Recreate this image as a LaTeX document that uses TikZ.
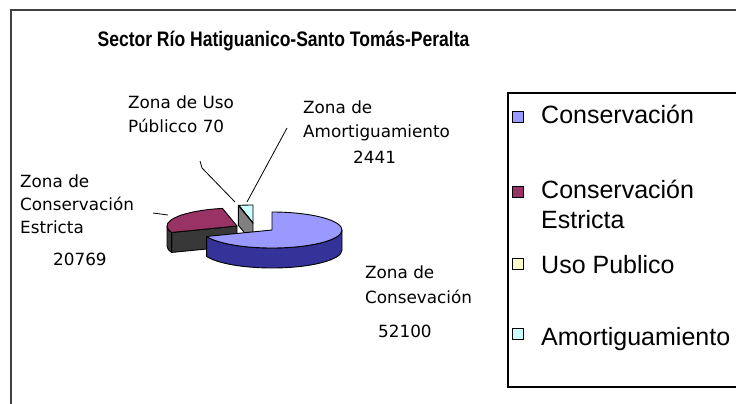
\documentclass[tikz,border=0pt]{standalone}
\usepackage{fontspec}
\setmainfont{Liberation Sans}
\newfontfamily\lblfont{DejaVu Sans}
\usetikzlibrary{calc}
\definecolor{blueTop}{HTML}{9999FF}
\definecolor{blueSide}{HTML}{333399}
\definecolor{plumTop}{HTML}{993366}
\definecolor{plumSide}{HTML}{383838}
\definecolor{usoTop}{HTML}{FFFFCC}
\definecolor{amoTop}{HTML}{CCFFFF}
\definecolor{smallSide}{HTML}{808080}
\definecolor{frameGray}{HTML}{404040}
\begin{document}
\begin{tikzpicture}[x=1pt,y=-1pt,
  lbl/.style={font=\lblfont\fontsize{16.8}{20}\selectfont, inner sep=0pt, anchor=base west},
  leg/.style={font=\fontsize{25}{30}\selectfont, inner sep=0pt, anchor=base west},
  legsq/.style={draw=black, line width=0.8pt, minimum size=11pt, inner sep=0pt},
  slice/.style={draw=black, line width=0.9pt, line join=round},
  leader/.style={draw=black, line width=0.8pt},
  pie/.style={x radius=70pt, y radius=18pt}]
\useasboundingbox (0,0) rectangle (736,404);
\fill[white] (0,0) rectangle (736,404);
% outer chart frame
\draw[frameGray, line width=2.2pt] (11,420) -- (11,10) -- (760,10);
% title
\node[font=\bfseries\fontsize{21}{24}\selectfont, inner sep=0pt, anchor=base] (title) at (283.5,47)
  {\scalebox{0.835}[1]{Sector Río Hatiguanico-Santo Tomás-Peralta}};
% legend
\draw[black, line width=1.2pt] (760,93) -- (508,93) -- (508,387) -- (760,387);
\node[legsq, fill=blueTop] (sq1) at (517.5,116.5) {};
\node[legsq, fill=plumTop] (sq2) at (517.5,191.5) {};
\node[legsq, fill=usoTop] (sq3) at (517.5,263.5) {};
\node[legsq, fill=amoTop] (sq4) at (517.5,333.5) {};
\node[leg] (lg1) at (541,123) {Conservación};
\node[leg] (lg2) at (541,198) {Conservación};
\node[leg] (lg2b) at (541,228) {Estricta};
\node[leg] (lg3) at (541,273) {Uso Publico};
\node[leg] (lg4) at (541,345) {Amortiguamiento};
% pie centres
\coordinate (c1) at (272,230);
\coordinate (c2) at (237,226);
\coordinate (c3) at (253,223);
% strict conservation slice
\path[slice, fill=plumSide] (c2) -- ($(c2)+(201:70pt and 18pt)$) -- ++(0pt,-20pt) -- ($(c2)+(0pt,-20pt)$) -- cycle;
\path[slice, fill=plumSide] ($(c2)+(180:70pt and 18pt)$) arc[pie, start angle=180, end angle=201] -- ++(0pt,-20pt) arc[pie, start angle=201, end angle=180] -- cycle;
\path[slice, fill=plumTop] (c2) -- ($(c2)+(102:70pt and 18pt)$) arc[pie, start angle=102, end angle=201] -- cycle;
% small slices
\path[slice, fill=smallSide] (c3) -- ($(c3)+(102:70pt and 18pt)$) -- ++(0pt,-20pt) -- ($(c3)+(0pt,-20pt)$) -- cycle;
\path[slice, fill=amoTop] (c3) -- ($(c3)+(90:70pt and 18pt)$) arc[pie, start angle=90, end angle=101.66] -- cycle;
\path[slice, fill=usoTop] (c3) -- ($(c3)+(101.66:70pt and 18pt)$) arc[pie, start angle=101.66, end angle=102] -- cycle;
% conservation slice
\path[slice, fill=blueSide] ($(c1)+(-159:70pt and 18pt)$) arc[pie, start angle=-159, end angle=0] -- ++(0pt,-20pt) arc[pie, start angle=0, end angle=-159] -- cycle;
\path[slice, fill=blueTop] (c1) -- ($(c1)+(-159:70pt and 18pt)$) arc[pie, start angle=-159, end angle=90] -- cycle;
% labels
\node[lbl] (uso1) at (128,108) {Zona de Uso};
\node[lbl] (uso2) at (128,132) {Públicco 70};
\node[lbl] (am1) at (303,113) {Zona de};
\node[lbl] (am2) at (303,137) {Amortiguamiento};
\node[lbl] (am3) at (353,163) {2441};
\node[lbl] (st1) at (20,187) {Zona de};
\node[lbl] (st2) at (20,210) {Conservación};
\node[lbl] (st3) at (20,233) {Estricta};
\node[lbl] (st4) at (53,265) {20769};
\node[lbl] (co1) at (365,278) {Zona de};
\node[lbl] (co2) at (365,303) {Consevación};
\node[lbl] (co3) at (378,337) {52100};
% leader lines
\coordinate (usoA) at (200,161);
\coordinate (usoB) at (202,168);
\coordinate (usoTip) at (235,202);
\coordinate (amA) at (287,128);
\coordinate (amTip) at (247,202);
\coordinate (stA) at (153,213);
\coordinate (stTip) at (168,215);
\draw[leader] (usoA) -- (usoB) -- (usoTip);
\draw[leader] (amA) -- (amTip);
\draw[leader] (stA) -- (stTip);
\end{tikzpicture}
\end{document}
